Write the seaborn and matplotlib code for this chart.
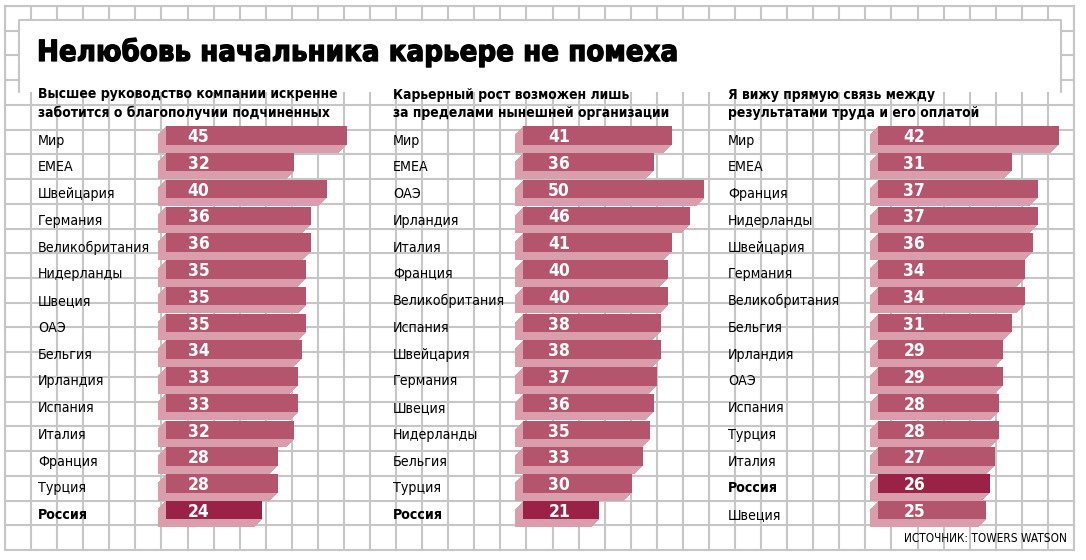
import matplotlib
matplotlib.use('Agg')
import matplotlib.pyplot as plt
import matplotlib.patheffects as pe
import matplotlib.transforms as mtransforms
from matplotlib.patches import Rectangle
from matplotlib.lines import Line2D
import seaborn as sns
import pandas as pd

# --- data ---
title = 'Нелюбовь начальника карьере не помеха'
source = 'ИСТОЧНИК: TOWERS WATSON'

sub1 = 'Высшее руководство компании искренне\nзаботится о благополучии подчиненных'
cats1 = ['Мир', 'EMEA', 'Швейцария', 'Германия', 'Великобритания', 'Нидерланды', 'Швеция',
         'ОАЭ', 'Бельгия', 'Ирландия', 'Испания', 'Италия', 'Франция', 'Турция', 'Россия']
vals1 = [45, 32, 40, 36, 36, 35, 35, 35, 34, 33, 33, 32, 28, 28, 24]

sub2 = 'Карьерный рост возможен лишь\nза пределами нынешней организации'
cats2 = ['Мир', 'EMEA', 'ОАЭ', 'Ирландия', 'Италия', 'Франция', 'Великобритания', 'Испания',
         'Швейцария', 'Германия', 'Швеция', 'Нидерланды', 'Бельгия', 'Турция', 'Россия']
vals2 = [41, 36, 50, 46, 41, 40, 40, 38, 38, 37, 36, 35, 33, 30, 21]

sub3 = 'Я вижу прямую связь между\nрезультатами труда и его оплатой'
cats3 = ['Мир', 'EMEA', 'Франция', 'Нидерланды', 'Швейцария', 'Германия', 'Великобритания',
         'Бельгия', 'Ирландия', 'ОАЭ', 'Испания', 'Турция', 'Италия', 'Россия', 'Швеция']
vals3 = [42, 31, 37, 37, 36, 34, 34, 31, 29, 29, 28, 28, 27, 26, 25]

HIGHLIGHT = 'Россия'

# --- style ---
W, H = 1086, 560
BAR, DARK, SHADE, GRID = '#b5546d', '#9b2247', '#d99dac', '#c6c6c6'

sns.set_theme(style='white')
plt.rcParams['font.family'] = ['DejaVu Sans']
plt.rcParams['text.color'] = 'black'

fig = plt.figure(figsize=(W / 100, H / 100), dpi=100)


def fx(px):
    return px / W


def fy(py):
    return 1 - py / H


# background squared paper
bg = fig.add_axes([fx(5), fy(550), fx(1074) - fx(5), fy(6) - fy(550)])
bg.set_xlim(0, 41)
bg.set_ylim(0, 22)
bg.set_xticks(range(42))
bg.set_yticks(range(23))
bg.tick_params(length=0, labelbottom=False, labelleft=False)
bg.grid(True, color=GRID, lw=1.5)
bg.set_axisbelow(True)
for s in bg.spines.values():
    s.set_color(GRID)
    s.set_linewidth(1.5)

# title box
bg.add_patch(Rectangle((fx(19), fy(92)), fx(1061) - fx(19), fy(20) - fy(92),
                       transform=fig.transFigure, facecolor='white', edgecolor='none', zorder=1))
bg.add_line(Line2D([fx(19), fx(19), fx(1061), fx(1061)], [fy(92), fy(20), fy(20), fy(92)],
                   transform=fig.transFigure, color=GRID, lw=1.5, zorder=2))

fig.text(fx(37), fy(61), title, fontsize=21, fontweight='bold', fontstretch='condensed',
         va='baseline', path_effects=[pe.withStroke(linewidth=0.9, foreground='black')])
fig.text(fx(1067), fy(542), source, fontsize=8.5, fontstretch='condensed', ha='right',
         va='baseline')

# extruded bar look
shadow_fx = [pe.SimplePatchShadow(offset=(-k * 0.36, -k * 0.36), shadow_rgbFace=SHADE, alpha=1.0)
             for k in range(16, 0, -1)] + [pe.Normal()]

ROW0, STEP = 135.5, 26.76
top = ROW0 - STEP / 2
bottom = top + 15 * STEP

panels = [(cats1, vals1, sub1, 38, 165.7, 22),
          (cats2, vals2, sub2, 393, 523.3, 25),
          (cats3, vals3, sub3, 728, 878.3, 25)]

for cats, vals, sub, lx, bx, nx in panels:
    ax = fig.add_axes([fx(bx), fy(bottom), fx(bx + 181) - fx(bx), fy(top) - fy(bottom)])
    df = pd.DataFrame({'cat': cats, 'val': vals})
    pal = {c: (DARK if c == HIGHLIGHT else BAR) for c in cats}
    sns.barplot(data=df, x='val', y='cat', hue='cat', palette=pal, orient='h', width=0.69,
                saturation=1, legend=False, linewidth=0, ax=ax)
    ax.set_xlim(0, max(vals))
    ax.set_ylim(len(cats) - 0.5, -0.5)
    ax.axis('off')
    for bar in ax.patches:
        bar.set_clip_on(False)
        bar.set_path_effects(shadow_fx)

    lab_tr = mtransforms.offset_copy(
        mtransforms.blended_transform_factory(fig.transFigure, ax.transData),
        fig=fig, y=-9, units='dots')
    num_tr = mtransforms.offset_copy(ax.transData, fig=fig, x=nx, y=-6.7, units='dots')
    for i, (c, v) in enumerate(zip(cats, vals)):
        ax.text(fx(lx), i, c, transform=lab_tr, fontsize=10.2, fontstretch='condensed',
                fontweight='bold' if c == HIGHLIGHT else 'normal', va='baseline', ha='left')
        ax.text(0, i, str(v), transform=num_tr, fontsize=12.5, fontweight='bold',
                fontstretch='condensed', color='white', va='baseline', ha='left')

    # multi-line baseline is taken from the last line
    fig.text(fx(lx), fy(117.5), sub, fontsize=10, fontweight='bold', fontstretch='condensed',
             va='baseline', linespacing=1.45)

fig.savefig('out.png', dpi=100)
